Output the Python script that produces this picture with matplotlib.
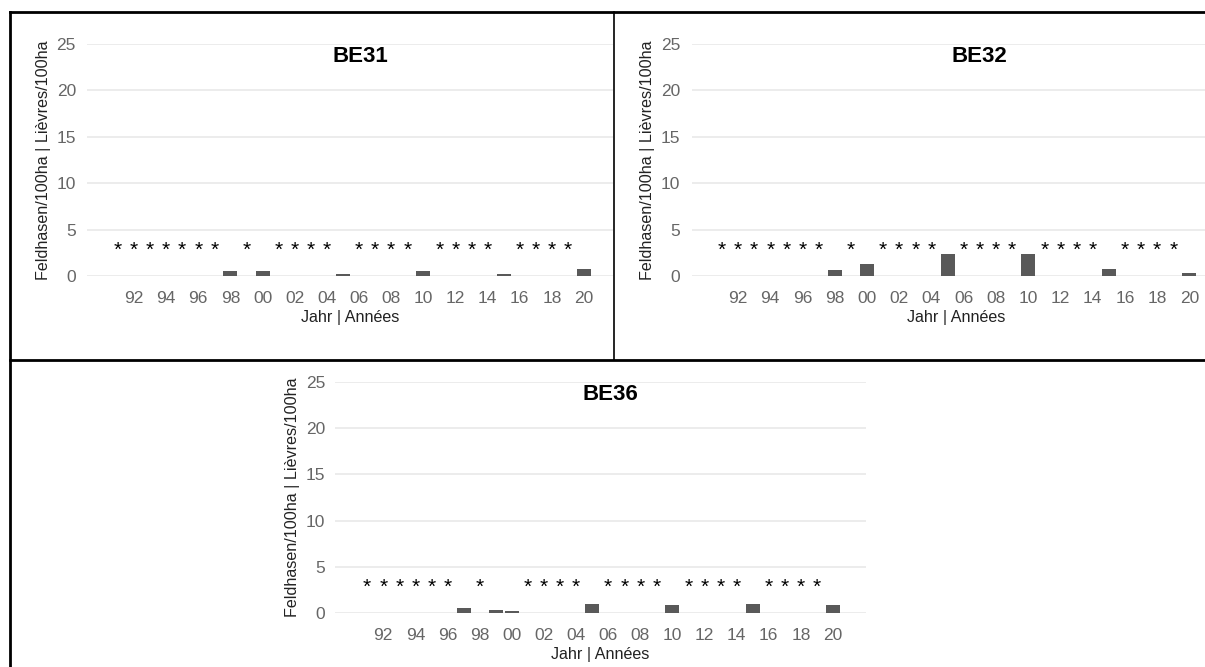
import matplotlib
matplotlib.use("Agg")
import matplotlib.pyplot as plt
from matplotlib.lines import Line2D

plt.rcParams['font.family'] = ['Liberation Sans', 'DejaVu Sans']

# data
tick_years = list(range(1992, 2021, 2))
tick_labels = ['92', '94', '96', '98', '00', '02', '04', '06', '08', '10',
               '12', '14', '16', '18', '20']
y_ticks = [0, 5, 10, 15, 20, 25]

be31_years = [1998, 2000, 2005, 2010, 2015, 2020]
be31_vals = [0.55, 0.55, 0.2, 0.55, 0.2, 0.8]
be31_stars = [1991, 1992, 1993, 1994, 1995, 1996, 1997, 1999,
              2001, 2002, 2003, 2004, 2006, 2007, 2008, 2009,
              2011, 2012, 2013, 2014, 2016, 2017, 2018, 2019]

be32_years = [1998, 2000, 2005, 2010, 2015, 2020]
be32_vals = [0.6, 1.3, 2.4, 2.4, 0.8, 0.3]
be32_stars = [1991, 1992, 1993, 1994, 1995, 1996, 1997, 1999,
              2001, 2002, 2003, 2004, 2006, 2007, 2008, 2009,
              2011, 2012, 2013, 2014, 2016, 2017, 2018, 2019]

be36_years = [1997, 1999, 2000, 2005, 2010, 2015, 2020]
be36_vals = [0.55, 0.3, 0.2, 1.0, 0.85, 0.95, 0.85]
be36_stars = [1991, 1992, 1993, 1994, 1995, 1996, 1998,
              2001, 2002, 2003, 2004, 2006, 2007, 2008, 2009,
              2011, 2012, 2013, 2014, 2016, 2017, 2018, 2019]

W, H = 1205, 667
fig = plt.figure(figsize=(W / 100, H / 100), dpi=100)


def px_axes(x0, x1, y_top, y_bot):
    return fig.add_axes([x0 / W, 1 - y_bot / H, (x1 - x0) / W, (y_bot - y_top) / H])


def panel(ax, title, years, vals, stars, xlim, title_x, ypad):
    ax.bar(years, vals, width=0.87, color='#595959', zorder=3)
    for yr in stars:
        ax.text(yr, 2.75, '*', ha='center', va='center', fontsize=15, color='black')
    ax.set_xlim(*xlim)
    ax.set_ylim(0, 25)
    ax.set_yticks(y_ticks)
    ax.set_xticks(tick_years)
    ax.set_xticklabels(tick_labels)
    ax.grid(axis='y', color='#ebebeb', lw=1.3, zorder=0)
    ax.set_axisbelow(True)
    for s in ax.spines.values():
        s.set_visible(False)
    ax.tick_params(length=0, labelsize=12.5, labelcolor='#666666')
    ax.tick_params(axis='x', pad=10.5)
    ax.tick_params(axis='y', pad=ypad)
    ax.set_xlabel('Jahr | Années', fontsize=11.6, color='#222222', labelpad=3.5)
    ax.set_ylabel('Feldhasen/100ha | Lièvres/100ha', fontsize=11.6, color='#222222', labelpad=4)
    ax.text(title_x, 0.944, title, transform=ax.transAxes, ha='center', va='center',
            fontsize=16, fontweight='bold', color='black')


ax1 = px_axes(87, 613, 44, 276)
panel(ax1, 'BE31', be31_years, be31_vals, be31_stars, (1989.08, 2021.8), 0.519, 8)

ax2 = px_axes(692, 1220, 44, 276)
panel(ax2, 'BE32', be32_years, be32_vals, be32_stars, (1989.15, 2021.9), 0.545, 8.5)

ax3 = px_axes(335, 866, 382, 613)
panel(ax3, 'BE36', be36_years, be36_vals, be36_stars, (1989.0, 2022.05), 0.518, 7)

# table borders
def fline(x0, y0, x1, y1, lw=2):
    fig.add_artist(Line2D([x0 / W, x1 / W], [1 - y0 / H, 1 - y1 / H],
                          transform=fig.transFigure, color='black', lw=lw))

fline(10, 12, W, 12)
fline(10, 12, 10, H)
fline(614, 12, 614, 360, lw=1.2)
fline(10, 360, W, 360)

fig.savefig('out.png', dpi=100)
